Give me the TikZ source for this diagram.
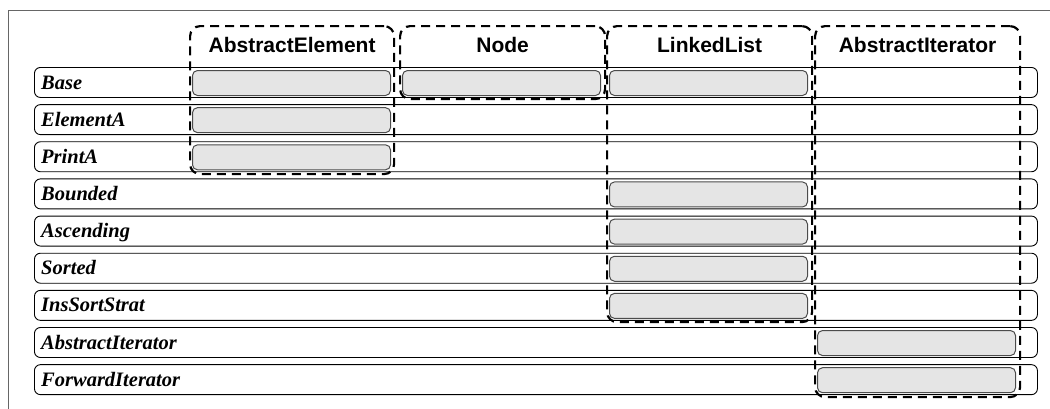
\documentclass[tikz,border=0pt]{standalone}
\usepackage{fontspec}
\setmainfont{Liberation Serif}
\newfontfamily\hdrfont{Liberation Sans}
\usetikzlibrary{calc}
\begin{document}
\begin{tikzpicture}[x=1pt,y=-1pt,
  frame/.style={draw=black!60, line width=1pt},
  rowbox/.style={draw=black, line width=0.9pt, rounded corners=6pt,
    minimum width=1003pt, minimum height=30pt, inner sep=0pt, anchor=north west},
  rowlabel/.style={font=\fontsize{20.5}{24}\selectfont\bfseries\itshape,
    anchor=base west, inner sep=0pt},
  cell/.style={draw=black!70, fill=black!10, line width=1pt, rounded corners=5pt,
    minimum width=198pt, minimum height=25pt, inner sep=0pt, anchor=north west},
  group/.style={draw=black, line width=2.2pt, dash pattern=on 9pt off 6pt,
    rounded corners=10pt, inner sep=0pt, anchor=north west},
  header/.style={font=\hdrfont\fontsize{21}{24}\selectfont\bfseries,
    anchor=base, inner sep=0pt}]

\useasboundingbox (0,0) rectangle (1050,408);
\clip (0,0) rectangle (1050,408);

% outer frame (runs past the right and bottom edges)
\draw[frame] (8,10) rectangle (1080,440);

% feature rows
\foreach \name [count=\i from 0] in
  {Base,ElementA,PrintA,Bounded,Ascending,Sorted,InsSortStrat,AbstractIterator,ForwardIterator} {
  \node[rowbox] (row\i) at (34,{67+37.15*\i}) {};
  \node[rowlabel] (lbl\i) at ($(row\i.north west)+(7,22)$) {\name};
}

% column x positions of the cells
\def\colA{192}\def\colB{402}\def\colC{609}\def\colD{817}

% filled cells: row / column
\foreach \r/\cx/\nm in {0/\colA/a0,1/\colA/a1,2/\colA/a2,
                        0/\colB/b0,
                        0/\colC/c0,3/\colC/c3,4/\colC/c4,5/\colC/c5,6/\colC/c6,
                        7/\colD/d7,8/\colD/d8} {
  \node[cell] (cell-\nm) at (\cx,{67+37.15*\r+3}) {};
}

% class groups (dashed)
\node[group, minimum width=204pt, minimum height=148pt] (gAE) at (189,25) {};
\node[group, minimum width=205pt, minimum height=73pt]  (gN)  at (399,25) {};
\node[group, minimum width=205pt, minimum height=296pt] (gLL) at (606,25) {};
\node[group, minimum width=205pt, minimum height=371pt] (gAI) at (814,25) {};

% group headers
\node[header] (hAE) at ($(gAE.north)+(0,27)$) {AbstractElement};
\node[header] (hN)  at ($(gN.north)+(0,27)$)  {Node};
\node[header] (hLL) at ($(gLL.north)+(0,27)$) {LinkedList};
\node[header] (hAI) at ($(gAI.north)+(0,27)$) {AbstractIterator};
\end{tikzpicture}
\end{document}
